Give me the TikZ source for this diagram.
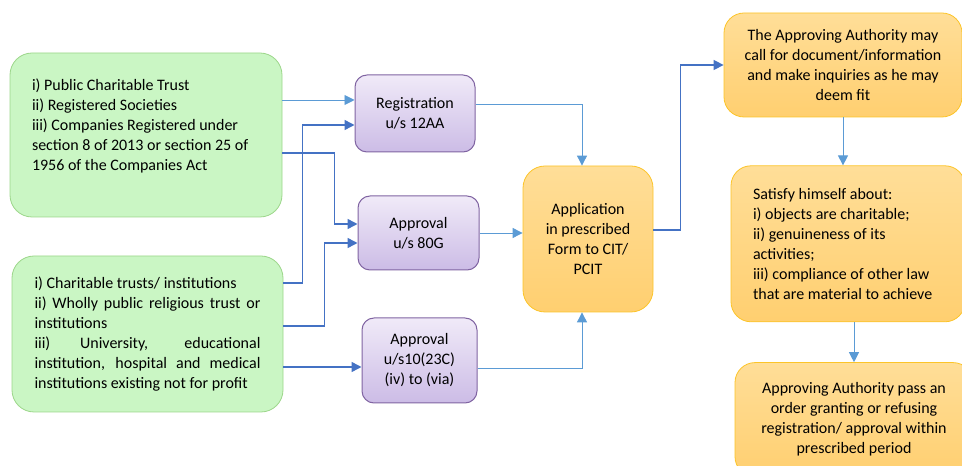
\documentclass[tikz,border=0pt]{standalone}
\usepackage{fontspec}
\setmainfont{Carlito}
\usetikzlibrary{positioning, arrows.meta}
\definecolor{greenfill}{RGB}{202,246,196}
\definecolor{greenline}{RGB}{156,214,138}
\definecolor{purpletop}{RGB}{240,234,248}
\definecolor{purplebottom}{RGB}{204,188,230}
\definecolor{purpleline}{RGB}{128,100,162}
\definecolor{orangetop}{RGB}{255,222,152}
\definecolor{orangebottom}{RGB}{255,207,112}
\definecolor{orangeline}{RGB}{252,196,40}
\definecolor{flowdark}{RGB}{68,114,196}
\definecolor{flowlight}{RGB}{91,155,213}
\tikzstyle{group} = [
    rectangle, draw=greenline, fill=greenfill, line width=0.8pt,
    rounded corners=22pt, inner xsep=22pt
]
\tikzstyle{section} = [
    rectangle, draw=purpleline, top color=purpletop, bottom color=purplebottom,
    line width=1pt, rounded corners=12pt, align=center
]
\tikzstyle{stage} = [
    rectangle, draw=orangeline, top color=orangetop, bottom color=orangebottom,
    line width=0.8pt, rounded corners=20pt, align=center
]
\tikzstyle{flow} = [-{Triangle[length=10pt,width=10pt]}, draw=flowdark, line width=1.5pt]
\tikzstyle{thinflow} = [flow, draw=flowlight, line width=0.9pt]
\begin{document}
\begin{tikzpicture}[x=1pt, y=1pt, font=\fontsize{16pt}{20pt}\selectfont]
        \useasboundingbox (0,0) rectangle (962,466);

        % Eligible entities
        \node[group, minimum height=164pt, text width=228pt, align=flush left] (trusts) at (146,331) {
            i) Public Charitable Trust \\
            ii) Registered Societies \\
            iii) Companies Registered under \\
            section 8 of 2013 or section 25 of \\
            1956 of the Companies Act \\ \mbox{}
        };
        \node[group, minimum height=156pt, text width=226pt, inner xsep=22.5pt, align=justify] (institutions) at (147.5,132) {
            i) Charitable trusts/ institutions \\
            ii) Wholly public religious trust or\linebreak institutions \\
            iii) University, educational\linebreak institution, hospital and medical\linebreak institutions existing not for profit
        };

        % Sections of the Act
        \node[section, minimum width=120pt, minimum height=77pt] (reg) at (415,352.5) {Registration\\ u/s 12AA};
        \node[section, minimum width=121pt, minimum height=74pt] (approval) at (418.5,233) {Approval\\ u/s 80G};
        \node[section, minimum width=115pt, minimum height=85pt] (exempt) at (419.5,105.5) {Approval\\ u/s10(23C)\\ (iv) to (via)};

        % Application
        \node[stage, minimum width=130pt, minimum height=146pt, rounded corners=22pt] (app) at (588,227) {Application\\ in prescribed\\ Form to CIT/\\ PCIT};

        % Procedure before the authority
        \node[stage, minimum width=238pt, minimum height=104pt] (inquiry) at (843,401) {
            The Approving Authority may\\
            call for document/information\\
            and make inquiries as he may\\
            deem fit
        };
        \node[stage, minimum width=234pt, minimum height=156pt, text width=190pt, inner xsep=22pt, align=flush left] (satisfy) [below=48pt of inquiry, xshift=5pt] {
            Satisfy himself about:\\
            i) objects are charitable;\\
            ii) genuineness of its\\
            activities;\\
            iii) compliance of other law\\
            that are material to achieve
        };
        \node[stage, minimum width=238pt, minimum height=114pt] (order) [below=40pt of satisfy, xshift=6pt] {
            Approving Authority pass an\\
            order granting or refusing\\
            registration/ approval within\\
            prescribed period
        };

        % Entities to sections
        \draw[thinflow] ([yshift=13.5pt]reg.west -| trusts.east) -- ([yshift=13.5pt]reg.west);
        \draw[flow] ([yshift=51pt]institutions.east) -- ++(19pt,0) |- ([yshift=-11.5pt]reg.west);
        \draw[flow] ([yshift=-18pt]trusts.east) -- ++(52pt,0) |- ([yshift=9pt]approval.west);
        \draw[flow] ([yshift=8pt]institutions.east) -- ++(41pt,0) |- ([yshift=-10pt]approval.west);
        \draw[flow] ([yshift=-6.5pt]exempt.west -| institutions.east) -- ([yshift=-6.5pt]exempt.west);

        % Sections to application
        \draw[thinflow] ([yshift=9.5pt]reg.east) -| ([xshift=-6pt]app.north);
        \draw[thinflow] (approval.east) -- (approval.east -| app.west);
        \draw[thinflow] ([yshift=-7.5pt]exempt.east) -| ([xshift=-6pt]app.south);

        % Application to authority
        \draw[flow] ([yshift=9pt]app.east) -- ++(27pt,0) |- (inquiry.west);
        \draw[thinflow] (inquiry.south) -- (inquiry.south |- satisfy.north);
        \draw[thinflow] (order.north |- satisfy.south) -- (order.north);

    \end{tikzpicture}
\end{document}
